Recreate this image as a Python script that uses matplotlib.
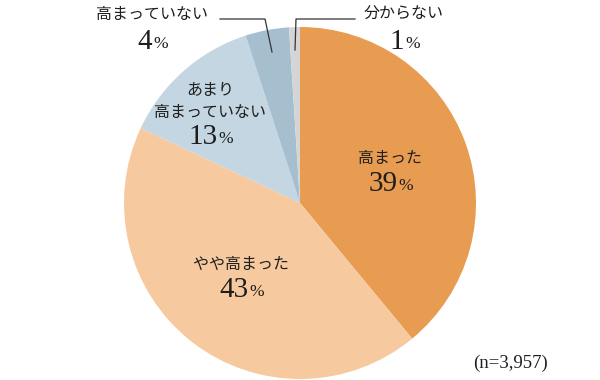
import matplotlib
matplotlib.use("Agg")
import matplotlib.pyplot as plt

labels = ["高まった", "やや高まった", "あまり\n高まっていない", "高まっていない", "分からない"]
values = [39, 43, 13, 4, 1]
colors = ["#E89C52", "#F6CA9E", "#C3D6E2", "#A5BFCF", "#D5D5D5"]
note = "(n=3,957)"

jp = ["Noto Sans CJK JP", "DejaVu Sans"]
serif = "Liberation Serif"

fig = plt.figure(figsize=(6, 3.8), dpi=100)
ax = fig.add_axes([0, 0, 1, 1])

ax.pie(values, colors=colors, startangle=90, counterclock=False,
       center=(300, 177), radius=176, frame=True,
       wedgeprops=dict(linewidth=0))
ax.set_xlim(0, 600)
ax.set_ylim(0, 380)
ax.set_aspect("equal")
ax.axis("off")

def Y(y):
    return 380 - y

TXT = "#1e1e1e"

def label(x, y_txt, y_num, text, val, fs=11.5):
    lines = text.split("\n")
    n = len(lines)
    for i, ln in enumerate(lines):
        yy = y_txt - (n - 1 - i) * 21
        ax.text(x, Y(yy), ln, family=jp, fontsize=fs, ha="center",
                va="center", color=TXT)
    ndig = len(str(val))
    dig_w = 14.5 * ndig
    pct_w = 14
    junction = x - (dig_w + pct_w) / 2 + dig_w
    ax.text(junction, Y(y_num), str(val), family=serif, fontsize=21, ha="right",
            va="center", color=TXT)
    ax.text(junction + 1, Y(y_num) - 2, "%", family=serif, fontsize=12.5,
            ha="left", va="center", color=TXT)

label(390, 158, 184, labels[0], values[0])
label(241, 265, 290, labels[1], values[1])
label(210, 112, 137, labels[2], values[2])
label(152, 15, 42, labels[3], values[3])
label(404, 14, 42, labels[4], values[4])

# leader lines
ax.plot([220, 265, 272], [Y(19), Y(19), Y(52)], color="#333333", lw=0.9)
ax.plot([355, 296, 295], [Y(19), Y(19), Y(50)], color="#333333", lw=0.9)

ax.text(511, Y(363), note, family=serif, fontsize=13.5, ha="center",
        va="center", color=TXT)

fig.savefig("out.png", dpi=100)
